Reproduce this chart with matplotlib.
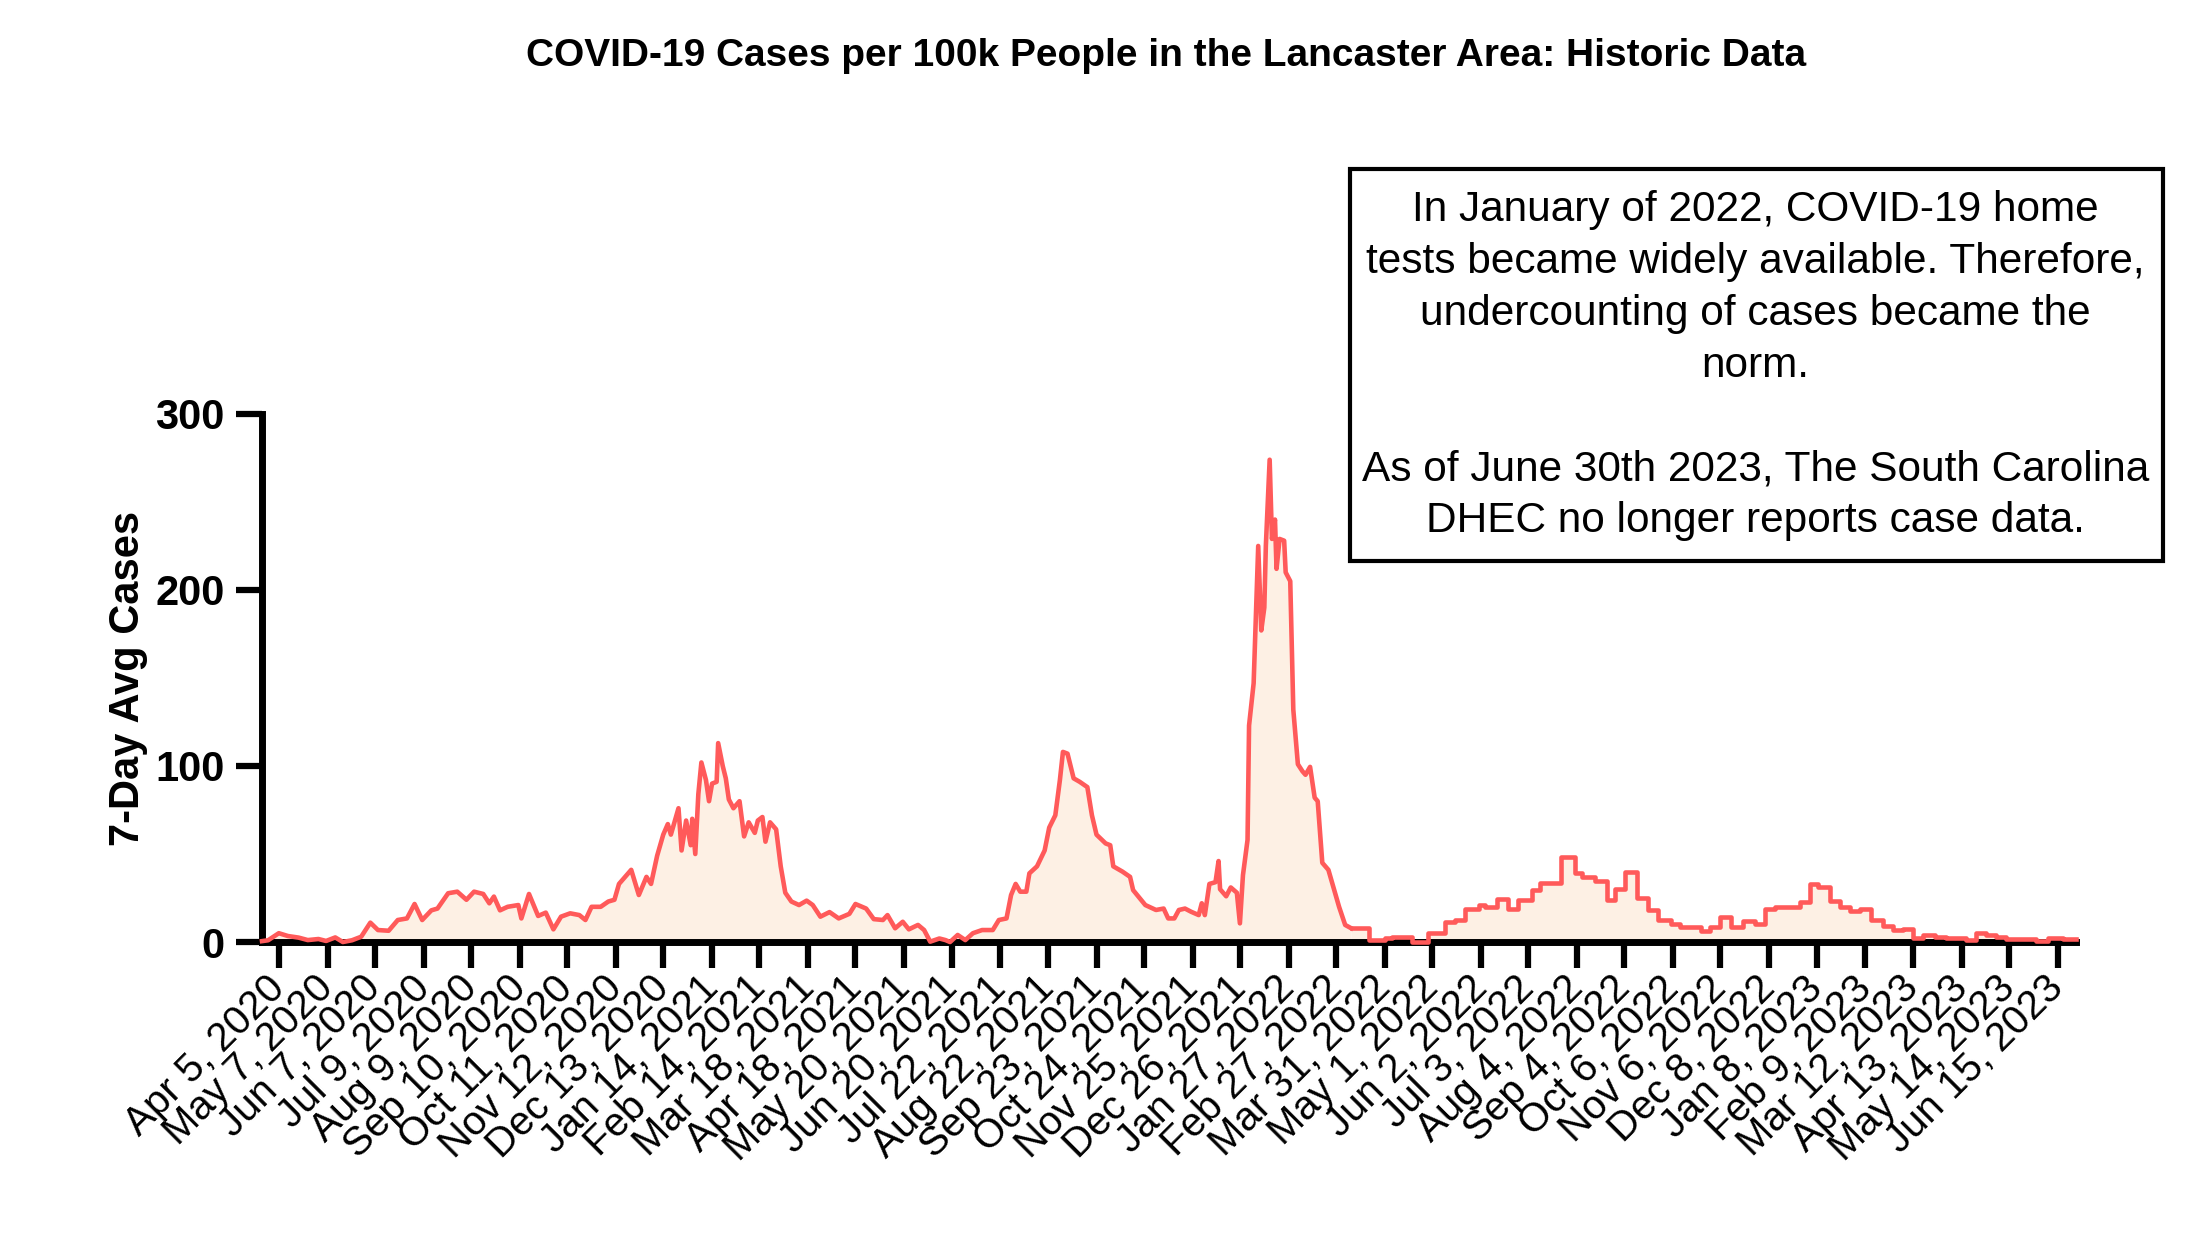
import numpy as np
import pandas as pd
import matplotlib
matplotlib.use('Agg')
import matplotlib.pyplot as plt
from matplotlib.patches import Rectangle

plt.rcParams['font.family'] = ['Liberation Sans', 'DejaVu Sans']

# 7-day average cases per 100k
# days counted from Apr 5, 2020
start = pd.Timestamp('2020-04-05')

daily_days = [-11, -7, 0, 6, 13, 19, 26, 31, 37, 42,
              48, 54, 60, 65, 72, 78, 84, 89, 94, 100,
              104, 111, 117, 123, 128, 134, 138, 141, 145, 150,
              157, 159, 164, 170, 175, 180, 185, 191, 197, 201,
              205, 211, 216, 220, 223, 227, 231, 236, 241, 244,
              248, 252, 255, 257, 259, 262, 264, 267, 270, 271,
              273, 275, 277, 280, 282, 284, 287, 288, 291, 293,
              295, 298, 302, 305, 308, 312, 314, 317, 319, 322,
              326, 329, 332, 336, 341, 346, 350, 355, 361, 367,
              374, 378, 385, 390, 396, 399, 404, 409, 413, 419,
              423, 427, 433, 437, 440, 445, 450, 455, 461, 468,
              472, 477, 480, 483, 486, 490, 492, 497, 502, 505,
              509, 512, 514, 517, 521, 525, 530, 533, 536, 542,
              545, 547, 553, 558, 560, 568, 575, 580, 583, 587,
              590, 594, 598, 603, 605, 607, 610, 614, 616, 617,
              621, 624, 628, 630, 632, 635, 636, 639, 642, 644,
              646, 647, 649.5, 651, 653, 654, 656, 659, 660, 663,
              665, 668, 671, 673, 676, 679, 681, 684, 688, 695,
              699, 703]
daily_vals = [0.5, 1, 5, 3.4, 2.5, 1.1, 1.7, 0.6, 2.6, 0,
              1, 3, 11, 6.8, 6.4, 12.5, 13.4, 21.6, 12.5, 18,
              19, 27.7, 28.6, 24, 28.6, 27.3, 22, 25.8, 18, 20,
              21, 13.4, 27.3, 14.8, 16.7, 7.2, 14.4, 16.3, 15.3, 12.5,
              20, 20, 23, 24, 33, 37, 41, 26.7, 37, 33,
              49, 61, 67, 61, 67, 76, 52, 69, 55, 70,
              50, 84, 102, 92, 80, 90, 91, 113, 100, 93,
              81, 76, 80, 60, 68, 62, 69, 71, 57, 68,
              64, 43, 28, 23, 21, 23.5, 21, 14.4, 17, 13.4,
              16, 21.6, 19, 13, 12.5, 15.3, 7.8, 11.5, 7.2, 9.7,
              6.8, 0.2, 2, 1.1, 0, 4, 1.1, 5, 6.8, 6.8,
              12.5, 13.4, 26.7, 33, 28.6, 28.6, 39, 43, 52, 65,
              72, 92, 108, 107, 93, 91, 88, 72, 61, 56,
              55, 43, 40, 37, 29.5, 21, 18.2, 19, 13.4, 13.4,
              18.2, 19, 17.2, 15.3, 22, 15.3, 33, 34, 46, 30,
              26, 31, 28, 10.6, 38, 58, 123, 147, 225, 177,
              190, 225, 274, 229, 240, 212, 229, 228, 210, 205,
              132, 101, 97, 95, 99.5, 82, 80, 45, 41, 20,
              9.7, 7.8]

# from spring 2022 the series moves in weekly steps
weekly_days = [703.4, 714.5, 725.4, 729.6, 742.7, 753.6, 764.5, 771, 777.6, 786.4,
               790.7, 798.4, 806, 812.5, 821.3, 826.7, 840.4, 849.6, 854, 862.7,
               870.3, 875.8, 882.3, 890, 897.6, 904.2, 912.9, 918.4, 932.5, 938,
               944.6, 952.2, 959.8, 967.5, 974, 980.6, 997, 1003.5, 1009, 1016.6,
               1023.2, 1029.7, 1036.3, 1043.9, 1051.5, 1058.1, 1064.7, 1071.3, 1077.8, 1085.4,
               1093, 1106, 1112.6, 1119.1, 1125.7, 1132.2, 1151.9, 1159.5, 1169.3, 1178]
weekly_vals = [7.8, 1.1, 2, 2.7, 0, 4.9, 11.6, 12.5, 19, 21,
               19.7, 24.4, 19, 23.9, 29.5, 33.7, 48.5, 39.4, 37, 34.8,
               23.9, 30, 40, 24.8, 18.2, 12.5, 10.2, 8.7, 6.4, 8.7,
               14.4, 8.7, 12.1, 10.2, 18.6, 19.7, 22.9, 32.8, 31, 23.5,
               19.7, 17.6, 18.8, 12.5, 9.1, 6.8, 7.4, 2.1, 4, 2.7,
               2.1, 1.1, 5.3, 4, 2.7, 1.7, 0.8, 2.1, 1.5, 1.5]

tick_labels = ['Apr 5, 2020', 'May 7, 2020', 'Jun 7, 2020', 'Jul 9, 2020', 'Aug 9, 2020',
               'Sep 10, 2020', 'Oct 11, 2020', 'Nov 12, 2020', 'Dec 13, 2020', 'Jan 14, 2021',
               'Feb 14, 2021', 'Mar 18, 2021', 'Apr 18, 2021', 'May 20, 2021', 'Jun 20, 2021',
               'Jul 22, 2021', 'Aug 22, 2021', 'Sep 23, 2021', 'Oct 24, 2021', 'Nov 25, 2021',
               'Dec 26, 2021', 'Jan 27, 2022', 'Feb 27, 2022', 'Mar 31, 2022', 'May 1, 2022',
               'Jun 2, 2022', 'Jul 3, 2022', 'Aug 4, 2022', 'Sep 4, 2022', 'Oct 6, 2022',
               'Nov 6, 2022', 'Dec 8, 2022', 'Jan 8, 2023', 'Feb 9, 2023', 'Mar 12, 2023',
               'Apr 13, 2023', 'May 14, 2023', 'Jun 15, 2023']

note = ('In January of 2022, COVID-19 home\n'
        'tests became widely available. Therefore,\n'
        'undercounting of cases became the\n'
        'norm.\n'
        '\n'
        'As of June 30th 2023, The South Carolina\n'
        'DHEC no longer reports case data.')

line_col = '#FF5A5A'
fill_col = '#FDF0E4'

d_x = start + pd.to_timedelta(daily_days, unit='D')
w_x = start + pd.to_timedelta(weekly_days, unit='D')
tick_x = pd.to_datetime(tick_labels, format='%b %d, %Y')

fig = plt.figure(figsize=(22, 12.39), dpi=100)
ax = fig.add_axes([0.1191, 0.2397, 0.8245, 0.4262])

ax.fill_between(d_x, daily_vals, 0, color=fill_col, lw=0)
ax.fill_between(w_x, weekly_vals, 0, step='post', color=fill_col, lw=0)
ax.plot(d_x, daily_vals, color=line_col, lw=3.3, zorder=3, clip_on=False)
ax.step(w_x, weekly_vals, where='post', color=line_col, lw=3.3, zorder=3, clip_on=False)

ax.set_xlim(start - pd.Timedelta(days=11), start + pd.Timedelta(days=1178))
ax.set_ylim(0, 300)
ax.set_yticks([0, 100, 200, 300])
ax.set_xticks(tick_x)
ax.set_xticklabels(tick_labels, rotation=45, ha='right', va='center',
                   rotation_mode='anchor', fontsize=29)
for lab in ax.get_yticklabels():
    lab.set_fontweight('bold')
    lab.set_fontsize(30)

for s in ['top', 'right']:
    ax.spines[s].set_visible(False)
for s in ['left', 'bottom']:
    ax.spines[s].set_linewidth(5)
ax.tick_params(axis='both', length=19, width=4.5, pad=8)
ax.tick_params(axis='x', pad=10)

ax.set_ylabel('7-Day Avg Cases', fontsize=30, fontweight='bold')
ax.yaxis.set_label_coords(-0.063, 0.50)

fig.text(0.530, 0.9548, 'COVID-19 Cases per 100k People in the Lancaster Area: Historic Data',
         ha='center', va='center', fontsize=28, fontweight='bold')

fig.patches.append(Rectangle((0.6136, 0.5469), 0.3695, 0.3164, transform=fig.transFigure,
                             facecolor='white', edgecolor='black', lw=3, zorder=5))
fig.text(0.798, 0.705, note, ha='center', va='center', fontsize=30.5,
         linespacing=1.38, zorder=6)

fig.savefig('out.png', dpi=100)
